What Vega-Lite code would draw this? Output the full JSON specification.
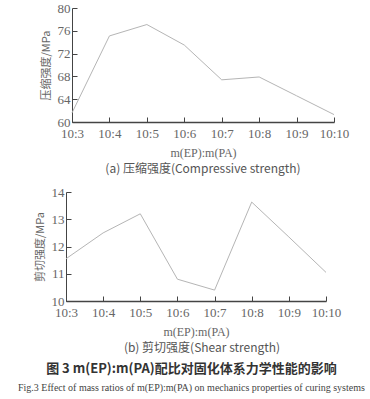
{
  "$schema": "https://vega.github.io/schema/vega-lite/v6.json",
  "background": "white",
  "padding": {"left": 14, "top": 2, "right": 0, "bottom": 0},
  "spacing": 11,
  "datasets": {
    "comp": [
      {"ratio": "10:3", "value": 61.6},
      {"ratio": "10:4", "value": 75.1},
      {"ratio": "10:5", "value": 77.1},
      {"ratio": "10:6", "value": 73.5},
      {"ratio": "10:7", "value": 67.4},
      {"ratio": "10:8", "value": 67.9},
      {"ratio": "10:9", "value": 64.6},
      {"ratio": "10:10", "value": 61.3}
    ],
    "shear": [
      {"ratio": "10:3", "value": 11.55},
      {"ratio": "10:4", "value": 12.5},
      {"ratio": "10:5", "value": 13.2},
      {"ratio": "10:6", "value": 10.8},
      {"ratio": "10:7", "value": 10.4},
      {"ratio": "10:8", "value": 13.63},
      {"ratio": "10:9", "value": 12.35},
      {"ratio": "10:10", "value": 11.05}
    ]
  },
  "title": {
    "text": "图 3   m(EP):m(PA)配比对固化体系力学性能的影响",
    "subtitle": "Fig.3    Effect of mass ratios of m(EP):m(PA) on mechanics properties of curing systems",
    "orient": "bottom",
    "anchor": "middle",
    "font": "Noto Sans CJK SC",
    "fontSize": 13,
    "fontWeight": "bold",
    "color": "#333",
    "subtitleFont": "Liberation Serif",
    "subtitleFontSize": 10,
    "subtitleColor": "#444",
    "subtitlePadding": 7,
    "offset": 9
  },
  "config": {
    "view": {"stroke": null},
    "axis": {
      "labelFont": "Liberation Serif",
      "titleFont": "Liberation Serif",
      "labelColor": "#666",
      "titleColor": "#666",
      "labelFontSize": 13,
      "titleFontSize": 12,
      "titleFontWeight": "normal",
      "grid": false,
      "domainColor": "#444",
      "tickColor": "#444",
      "tickSize": -5
    },
    "title": {"font": "Noto Sans CJK SC", "fontSize": 12, "fontWeight": "normal", "color": "#555"}
  },
  "vconcat": [
    {
      "width": 262,
      "height": 114,
      "data": {"name": "comp"},
      "title": {"text": "(a) 压缩强度(Compressive strength)", "orient": "bottom", "anchor": "middle", "offset": 6},
      "mark": {"type": "line", "color": "#b5b5b5", "strokeWidth": 1},
      "encoding": {
        "x": {
          "field": "ratio", "type": "ordinal", "sort": null,
          "scale": {"type": "point", "padding": 0},
          "axis": {"title": "m(EP):m(PA)", "labelAngle": 0, "domainWidth": 1.5, "titlePadding": 7, "labelPadding": 10}
        },
        "y": {
          "field": "value", "type": "quantitative",
          "scale": {"domain": [60, 80], "nice": false},
          "axis": {"values": [60, 64, 68, 72, 76, 80], "title": "压缩强度/MPa", "titleFont": "Noto Sans CJK SC", "titleFontSize": 11, "labelPadding": 7, "titlePadding": 6}
        }
      }
    },
    {
      "width": 260,
      "height": 109,
      "data": {"name": "shear"},
      "title": {"text": "(b) 剪切强度(Shear strength)", "orient": "bottom", "anchor": "middle", "offset": 6},
      "mark": {"type": "line", "color": "#b5b5b5", "strokeWidth": 1},
      "encoding": {
        "x": {
          "field": "ratio", "type": "ordinal", "sort": null,
          "scale": {"type": "point", "padding": 0, "range": [-6, 254]},
          "axis": {"title": "m(EP):m(PA)", "labelAngle": 0, "domainWidth": 1.5, "titlePadding": 7, "labelPadding": 10}
        },
        "y": {
          "field": "value", "type": "quantitative",
          "scale": {"domain": [10, 14], "nice": false},
          "axis": {"values": [10, 11, 12, 13, 14], "title": "剪切强度/MPa", "titleFont": "Noto Sans CJK SC", "titleFontSize": 11, "labelPadding": 7, "titlePadding": 6, "offset": 6}
        }
      }
    }
  ]
}
